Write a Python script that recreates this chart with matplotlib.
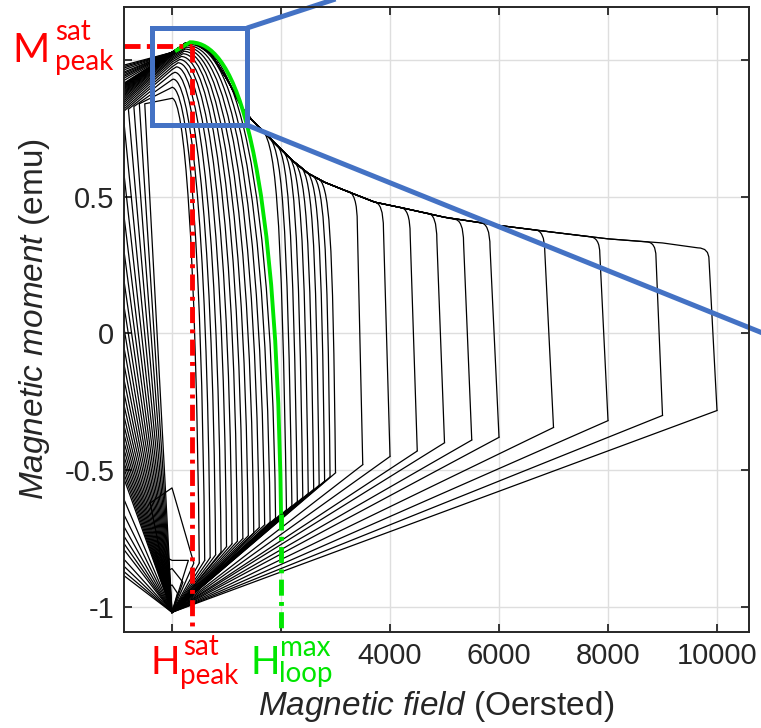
import numpy as np
import matplotlib.pyplot as plt
from matplotlib.path import Path
from matplotlib.patches import PathPatch, Rectangle

plt.rcParams['font.family'] = ['Liberation Sans', 'DejaVu Sans']
plt.rcParams['axes.unicode_minus'] = False
plt.rcParams['mathtext.fontset'] = 'custom'
plt.rcParams['mathtext.rm'] = 'Liberation Sans'
plt.rcParams['mathtext.it'] = 'Liberation Sans:italic'

# every loop starts (and ends) at negative saturation, zero field
start_h, start_m = 0, -1.02

# small loops that never switch
small_h = [100, 200, 300, 400]
small_m_bottom = [-0.95, -0.91, -0.83, -0.84]
small_m_zero = [-0.92, -0.86, -0.83, -0.565]
small_m_end = [-0.93, -0.88, -0.80, -0.62]

# switched loops with arcs nested inside the outer branch
nest_h = [500, 600, 700, 800, 900, 1000, 1100, 1200, 1300, 1400, 1500, 1600, 1700, 1800, 1900, 2000]
nest_m_bottom = [-0.84, -0.83, -0.82, -0.81, -0.80, -0.78, -0.77, -0.76, -0.75, -0.74, -0.73, -0.71, -0.70, -0.69, -0.675, -0.66]
nest_c1_h = [440, 540, 640, 740, 835, 935, 1030, 1130, 1225, 1320, 1420, 1515, 1610, 1710, 1805, 1900]
nest_c1_m = [0.35, 0.45, 0.52, 0.58, 0.63, 0.68, 0.72, 0.75, 0.78, 0.80, 0.82, 0.84, 0.86, 0.875, 0.89, 0.90]
nest_c2_h = [220, 260, 300, 340, 390, 440, 490, 540, 590, 640, 690, 740, 790, 830, 870, 900]
nest_peak_h = [0, 0, 20, 50, 80, 110, 140, 170, 200, 220, 240, 260, 280, 300, 315, 330]
nest_peak_m = [0.86, 0.90, 0.93, 0.955, 0.975, 0.99, 1.002, 1.013, 1.023, 1.032, 1.04, 1.047, 1.053, 1.058, 1.062, 1.065]
nest_m_zero = [0.86, 0.90, 0.928, 0.95, 0.965, 0.975, 0.985, 0.993, 1.0, 1.005, 1.01, 1.015, 1.018, 1.021, 1.024, 1.026]
nest_m_end = [0.84, 0.84, 0.83, 0.82, 0.81, 0.80, 0.79, 0.78, 0.77, 0.76, 0.75, 0.74, 0.73, 0.72, 0.71, 0.70]

# outer descending branch (shared by the larger loops)
env_h = [9650, 9000, 8000, 7000, 6000, 5000, 4275, 3725, 3300, 2800, 2500, 2200, 1890, 1470, 1300, 1010, 700, 420, 250, 90, 0]
env_m = [0.313, 0.331, 0.346, 0.37, 0.395, 0.425, 0.457, 0.48, 0.513, 0.553, 0.585, 0.634, 0.695, 0.78, 0.82, 0.93, 1.026, 1.062, 1.062, 1.04, 1.028]

# loops 2100-3000 Oe joining the outer branch
mid_h = [2100, 2200, 2300, 2400, 2500, 2600, 2700, 2800, 2900, 3000]
mid_m_bottom = [-0.645, -0.63, -0.615, -0.60, -0.585, -0.57, -0.555, -0.54, -0.525, -0.51]
mid_c1_h = [2010, 2115, 2220, 2325, 2430, 2535, 2640, 2745, 2850, 2950]
mid_c1_m = [0.50, 0.48, 0.46, 0.45, 0.44, 0.43, 0.42, 0.41, 0.40, 0.39]
mid_c2_h = [1900, 2010, 2120, 2230, 2340, 2450, 2560, 2670, 2780, 2890]
mid_c2_m = [0.72, 0.69, 0.67, 0.65, 0.63, 0.61, 0.595, 0.58, 0.57, 0.555]
mid_join_h = [1600, 1750, 1890, 2000, 2100, 2200, 2320, 2430, 2540, 2660]
mid_join_m = [0.754, 0.723, 0.695, 0.673, 0.653, 0.634, 0.615, 0.596, 0.581, 0.569]
mid_m_end = [0.69, 0.685, 0.68, 0.675, 0.67, 0.665, 0.66, 0.655, 0.65, 0.645]

# large loops
big_h = [3500, 4000, 4500, 5000, 5500, 6000, 7000, 8000, 9000, 10000]
big_m_bottom = [-0.48, -0.45, -0.43, -0.40, -0.39, -0.38, -0.344, -0.319, -0.30, -0.282]
big_knee_h = [3400, 3880, 4370, 4860, 5350, 5835, 6840, 7850, 8880, 9853]
big_knee_m = [0.40, 0.38, 0.36, 0.34, 0.33, 0.315, 0.30, 0.29, 0.28, 0.27]
big_join_h = [3200, 3700, 4180, 4680, 5170, 5650, 6650, 7650, 8700, 9650]
big_join_m = [0.521, 0.481, 0.461, 0.44, 0.418, 0.405, 0.379, 0.354, 0.335, 0.313]
big_m_end = [0.62, 0.60, 0.58, 0.56, 0.55, 0.54, 0.52, 0.51, 0.50, 0.50]

# annotations
sat_peak_h, sat_peak_m = 370, 1.05
loop_max_h = 2000
green_end_h, green_end_m = 55, 1.032
zoom_box_h = [-367, 1376]
zoom_box_m = [0.762, 1.117]
zoom_line_top = [(1376, 1.117), (3500, 1.256)]
zoom_line_bot = [(1376, 0.762), (12000, -0.092)]

# the 0 / 2000 / 1 labels sit under the red and green annotations
xticks = [0, 2000, 4000, 6000, 8000, 10000]
xtick_labels = ['', '', '4000', '6000', '8000', '10000']
yticks = [-1, -0.5, 0, 0.5, 1]
ytick_labels = ['-1', '-0.5', '0', '0.5', '']

M, L, C3, C4 = Path.MOVETO, Path.LINETO, Path.CURVE3, Path.CURVE4

fig = plt.figure(figsize=(7.61, 7.28), dpi=100)
ax = fig.add_axes([124 / 761, 1 - 632 / 728, 625 / 761, 625 / 728])

xmin, xmax = -881, 10587
ymin, ymax = -1.092, 1.194

lw_loop = 0.9
# each loop: ascending line to the field maximum, switching branch, return through negative field
for h, mb, mz, me in zip(small_h, small_m_bottom, small_m_zero, small_m_end):
    ax.plot([start_h, h, 0, -h, start_h], [start_m, mb, mz, me, start_m], color='black', lw=lw_loop, zorder=6)

for i, h in enumerate(nest_h):
    v = [(h, nest_m_bottom[i]), (nest_c1_h[i], nest_c1_m[i]),
         (nest_c2_h[i], nest_peak_m[i]), (nest_peak_h[i], nest_peak_m[i]), (0, nest_m_zero[i])]
    ax.add_patch(PathPatch(Path(v, [M, C4, C4, C4, L]), fill=False, ec='black', lw=lw_loop, zorder=2))
    ax.plot([start_h, h], [start_m, nest_m_bottom[i]], color='black', lw=lw_loop, zorder=6)
    ax.plot([0, -h, start_h], [nest_m_zero[i], nest_m_end[i], start_m], color='black', lw=lw_loop, zorder=6)

for i, h in enumerate(mid_h):
    top = [(eh, em) for eh, em in zip(env_h, env_m) if eh < mid_join_h[i]]
    v = [(h, mid_m_bottom[i]), (mid_c1_h[i], mid_c1_m[i]), (mid_c2_h[i], mid_c2_m[i]),
         (mid_join_h[i], mid_join_m[i])] + top
    ax.add_patch(PathPatch(Path(v, [M, C4, C4, C4] + [L] * len(top)), fill=False, ec='black',
                           lw=lw_loop, zorder=2))
    ax.plot([start_h, h], [start_m, mid_m_bottom[i]], color='black', lw=lw_loop, zorder=6)
    ax.plot([0, -h, start_h], [env_m[-1], mid_m_end[i], start_m], color='black', lw=lw_loop, zorder=6)

for i, h in enumerate(big_h):
    top = [(eh, em) for eh, em in zip(env_h, env_m) if eh < big_join_h[i]]
    v = [(h, big_m_bottom[i]), (big_knee_h[i], big_knee_m[i]),
         (big_knee_h[i], big_join_m[i]), (big_join_h[i], big_join_m[i])] + top
    ax.add_patch(PathPatch(Path(v, [M, L, C3, C3] + [L] * len(top)), fill=False, ec='black',
                           lw=lw_loop, zorder=2))
    ax.plot([start_h, h], [start_m, big_m_bottom[i]], color='black', lw=lw_loop, zorder=6)
    ax.plot([0, -h, start_h], [env_m[-1], big_m_end[i], start_m], color='black', lw=lw_loop, zorder=6)

# highlighted loop (H max)
g = nest_h.index(loop_max_h)
gv = [(loop_max_h, nest_m_bottom[g]), (nest_c1_h[g], nest_c1_m[g]),
      (nest_c2_h[g], nest_peak_m[g]), (nest_peak_h[g], nest_peak_m[g]), (green_end_h, green_end_m)]
ax.add_patch(PathPatch(Path(gv, [M, C4, C4, C4, L]), fill=False, ec='#00e600', lw=2.8, zorder=7))

dashdot = (0, (3.3, 1.3, 0.8, 1.3))
ax.plot([loop_max_h, loop_max_h], [nest_m_bottom[g], ymin], color='#00e600', lw=3.5,
        ls=dashdot, zorder=7)
ax.plot([xmin, sat_peak_h], [sat_peak_m, sat_peak_m], color='red', lw=3.5, ls=dashdot, zorder=8)
ax.plot([sat_peak_h, sat_peak_h], [sat_peak_m, ymin], color='red', lw=3.5, ls=dashdot, zorder=8)

blue = '#4472c4'
ax.add_patch(Rectangle((zoom_box_h[0], zoom_box_m[0]), zoom_box_h[1] - zoom_box_h[0],
                       zoom_box_m[1] - zoom_box_m[0], fill=False, ec=blue, lw=3.6, zorder=9))
for seg in (zoom_line_top, zoom_line_bot):
    ax.plot([seg[0][0], seg[1][0]], [seg[0][1], seg[1][1]], color=blue, lw=3.6,
            clip_on=False, zorder=9, solid_capstyle='butt')

ax.set_xlim(xmin, xmax)
ax.set_ylim(ymin, ymax)
ax.set_xticks(xticks)
ax.set_xticklabels(xtick_labels)
ax.set_yticks(yticks)
ax.set_yticklabels(ytick_labels)
ax.grid(True, color='#dedede', lw=1.0)
ax.set_axisbelow(True)
ax.tick_params(direction='in', length=6, width=1.3, top=True, right=True,
               colors='#262626', labelsize=21, pad=7)
for s in ax.spines.values():
    s.set_linewidth(1.4)
    s.set_color('#262626')
    s.set_zorder(10)

ax.set_xlabel(r'$\mathit{Magnetic\ field}$ (Oersted)', fontsize=24, color='#262626')
ax.set_ylabel(r'$\mathit{Magnetic\ moment}$ (emu)', fontsize=24, color='#262626')
ax.xaxis.set_label_coords(0.5, -0.092)
ax.yaxis.set_label_coords(-0.115, 0.5)

W, H = 761, 728
def label(x, y, s, size, color):
    fig.text(x / W, 1 - y / H, s, fontsize=size, color=color, family='Lato',
             ha='left', va='baseline', zorder=10)

label(12, 62, 'M', 29, 'red')
label(55, 40, 'sat', 20, 'red')
label(55, 70, 'peak', 20, 'red')
label(150, 674, 'H', 28, 'red')
label(183, 655, 'sat', 20, 'red')
label(180, 684, 'peak', 20, 'red')
label(250, 674, 'H', 28, '#00e600')
label(280, 656, 'max', 20, '#00e600')
label(279, 682, 'loop', 20, '#00e600')

fig.savefig('out.png', dpi=100)

# sanity check: the returns through negative field must show in the left strip
fig.canvas.draw()
buf = np.asarray(fig.canvas.buffer_rgba())[150:450, 135:170, :3].astype(float)
dark = int((buf.mean(axis=2) < 128).sum())
if dark < 50:
    raise SystemExit('left strip nearly empty: %d dark pixels' % dark)
